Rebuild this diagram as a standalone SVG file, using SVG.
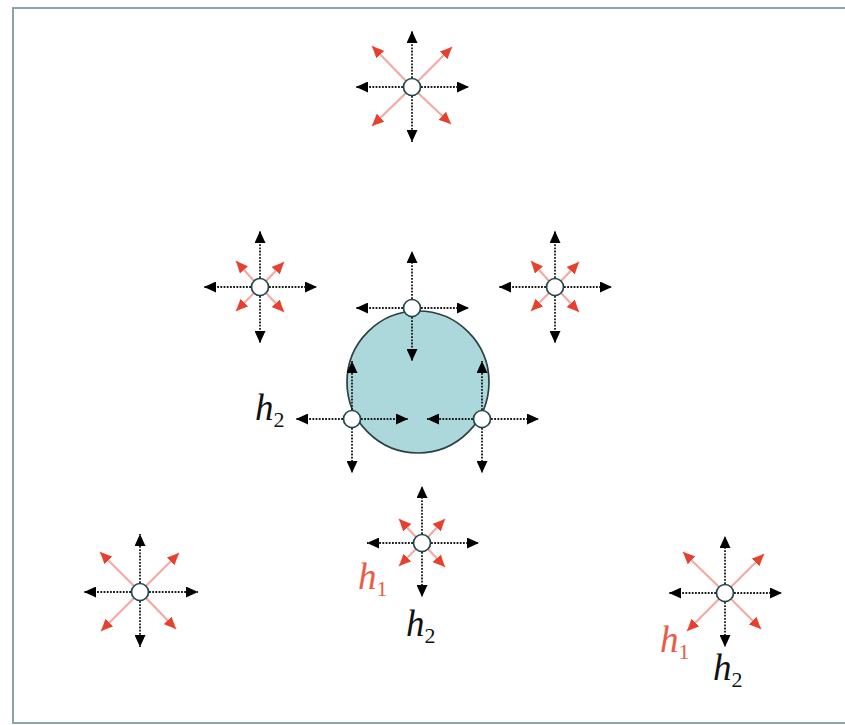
<svg xmlns="http://www.w3.org/2000/svg" width="845" height="725" viewBox="0 0 845 725">
<style>
.blk{stroke:#1a1a1a;stroke-width:1.8;stroke-dasharray:1.8 1.4;fill:none;marker-end:url(#ab)}
.red{stroke:#f4aaa2;stroke-width:2.2;fill:none;marker-end:url(#ar)}
.node{fill:#ffffff;stroke:#23474d;stroke-width:1.7}
.lbl{font-family:"Liberation Serif","Times New Roman",serif;font-style:italic;font-size:37px}
.sub{font-style:normal;font-size:22px}
.k{fill:#111111}
.r{fill:#ec5a44}
</style>
<defs>
<marker id="ab" markerUnits="userSpaceOnUse" markerWidth="13" markerHeight="11" refX="12" refY="5.5" orient="auto">
<path d="M0,0 L12,5.5 L0,11 z" fill="#000"/>
</marker>
<marker id="ar" markerUnits="userSpaceOnUse" markerWidth="13" markerHeight="11" refX="12" refY="5.5" orient="auto">
<path d="M0,0 L12,5.5 L0,11 z" fill="#e8402e"/>
</marker>
</defs>
<rect x="0" y="0" width="845" height="725" fill="#ffffff"/>
<path d="M845,8 H13 V723 H845" fill="none" stroke="#86a6ac" stroke-width="2"/>

<g id="body">
<circle cx="418" cy="382" r="71" fill="#acd8dc" stroke="#2c3f42" stroke-width="1.7"/>
</g>

<g id="connectors">
<!-- top star -->
<line class="red" x1="406" y1="81" x2="372" y2="46"/>
<line class="red" x1="418" y1="81" x2="452" y2="47"/>
<line class="red" x1="406" y1="93" x2="372" y2="126"/>
<line class="red" x1="418" y1="93" x2="451" y2="124"/>
<line class="blk" x1="412" y1="78" x2="412" y2="31"/>
<line class="blk" x1="412" y1="96" x2="412" y2="142"/>
<line class="blk" x1="403" y1="87" x2="356" y2="87"/>
<line class="blk" x1="421" y1="87" x2="469" y2="87"/>
<!-- left middle -->
<line class="red" x1="254" y1="281" x2="236" y2="261"/>
<line class="red" x1="266" y1="281" x2="284" y2="262"/>
<line class="red" x1="254" y1="293" x2="236" y2="311"/>
<line class="red" x1="266" y1="293" x2="284" y2="312"/>
<line class="blk" x1="260" y1="278" x2="260" y2="231"/>
<line class="blk" x1="260" y1="296" x2="260" y2="343"/>
<line class="blk" x1="251" y1="287" x2="204" y2="287"/>
<line class="blk" x1="269" y1="287" x2="317" y2="287"/>
<!-- right middle -->
<line class="red" x1="549" y1="281" x2="531" y2="261"/>
<line class="red" x1="561" y1="281" x2="579" y2="262"/>
<line class="red" x1="549" y1="293" x2="531" y2="311"/>
<line class="red" x1="561" y1="293" x2="579" y2="312"/>
<line class="blk" x1="555" y1="278" x2="555" y2="231"/>
<line class="blk" x1="555" y1="296" x2="555" y2="343"/>
<line class="blk" x1="546" y1="287" x2="499" y2="287"/>
<line class="blk" x1="564" y1="287" x2="612" y2="287"/>
<!-- circle top node -->
<line class="blk" x1="412" y1="299" x2="412" y2="251"/>
<line class="blk" x1="412" y1="317" x2="412" y2="361"/>
<line class="blk" x1="403" y1="308" x2="356" y2="308"/>
<line class="blk" x1="421" y1="308" x2="469" y2="308"/>
<!-- circle bottom-left node -->
<line class="blk" x1="343" y1="419" x2="296" y2="419"/>
<line class="blk" x1="361" y1="419" x2="408" y2="419"/>
<line class="blk" x1="352" y1="410" x2="352" y2="361"/>
<line class="blk" x1="352" y1="428" x2="352" y2="473"/>
<!-- circle bottom-right node -->
<line class="blk" x1="473" y1="419" x2="427" y2="419"/>
<line class="blk" x1="491" y1="419" x2="539" y2="419"/>
<line class="blk" x1="482" y1="410" x2="482" y2="361"/>
<line class="blk" x1="482" y1="428" x2="482" y2="473"/>
<!-- bottom middle -->
<line class="red" x1="416" y1="537" x2="399" y2="519"/>
<line class="red" x1="428" y1="537" x2="445" y2="519"/>
<line class="red" x1="416" y1="549" x2="399" y2="566"/>
<line class="red" x1="428" y1="549" x2="445" y2="567"/>
<line class="blk" x1="422" y1="534" x2="422" y2="486"/>
<line class="blk" x1="422" y1="552" x2="422" y2="597"/>
<line class="blk" x1="413" y1="543" x2="367" y2="543"/>
<line class="blk" x1="431" y1="543" x2="479" y2="543"/>
<!-- bottom left -->
<line class="red" x1="134" y1="586" x2="100" y2="552"/>
<line class="red" x1="146" y1="586" x2="179" y2="553"/>
<line class="red" x1="134" y1="598" x2="101" y2="631"/>
<line class="red" x1="146" y1="598" x2="176" y2="629"/>
<line class="blk" x1="140" y1="583" x2="140" y2="534"/>
<line class="blk" x1="140" y1="601" x2="140" y2="647"/>
<line class="blk" x1="131" y1="592" x2="84" y2="592"/>
<line class="blk" x1="149" y1="592" x2="198" y2="592"/>
<!-- bottom right -->
<line class="red" x1="719" y1="587" x2="683" y2="552"/>
<line class="red" x1="731" y1="587" x2="764" y2="554"/>
<line class="red" x1="719" y1="599" x2="687" y2="631"/>
<line class="red" x1="731" y1="599" x2="761" y2="629"/>
<line class="blk" x1="725" y1="584" x2="725" y2="536"/>
<line class="blk" x1="725" y1="602" x2="725" y2="647"/>
<line class="blk" x1="716" y1="593" x2="669" y2="593"/>
<line class="blk" x1="734" y1="593" x2="782" y2="593"/>
</g>

<g id="node-top"><circle class="node" cx="412" cy="87" r="8.5"/></g>
<g id="node-left"><circle class="node" cx="260" cy="287" r="8.5"/></g>
<g id="node-right"><circle class="node" cx="555" cy="287" r="8.5"/></g>
<g id="node-circle-top"><circle class="node" cx="412" cy="308" r="8.5"/></g>
<g id="node-circle-left"><circle class="node" cx="352" cy="419" r="8.5"/></g>
<g id="node-circle-right"><circle class="node" cx="482" cy="419" r="8.5"/></g>
<g id="node-bottom-middle"><circle class="node" cx="422" cy="543" r="8.5"/></g>
<g id="node-bottom-left"><circle class="node" cx="140" cy="592" r="8.5"/></g>
<g id="node-bottom-right"><circle class="node" cx="725" cy="593" r="8.5"/></g>

<g id="labels">
<text class="lbl k" x="255" y="420">h<tspan class="sub" dy="7">2</tspan></text>
<text class="lbl r" x="358" y="589">h<tspan class="sub" dy="7">1</tspan></text>
<text class="lbl k" x="406" y="636">h<tspan class="sub" dy="7">2</tspan></text>
<text class="lbl r" x="660" y="652">h<tspan class="sub" dy="7">1</tspan></text>
<text class="lbl k" x="713" y="680">h<tspan class="sub" dy="7">2</tspan></text>
</g>
</svg>
